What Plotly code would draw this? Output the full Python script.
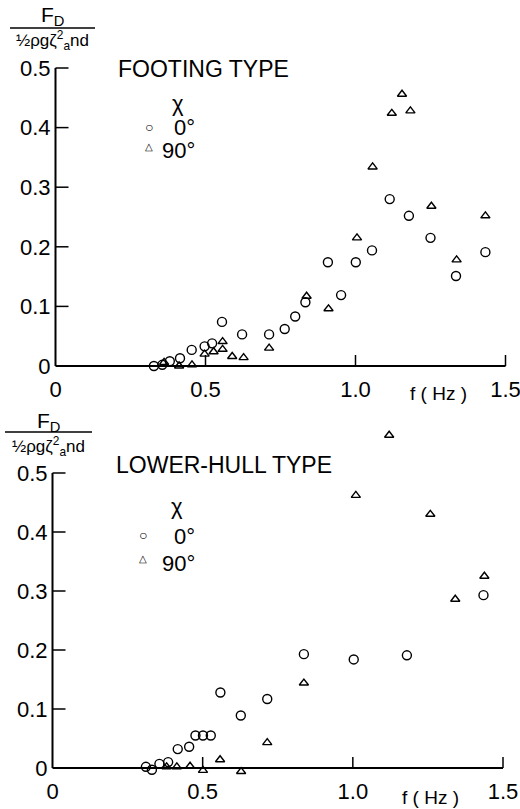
import plotly.graph_objects as go

# Footing type: non-dimensional drift force vs frequency
foot_f_0 = [0.328, 0.356, 0.381, 0.415, 0.454, 0.497, 0.522, 0.555, 0.622, 0.712, 0.764,
            0.799, 0.833, 0.908, 0.952, 1.001, 1.055, 1.114, 1.178, 1.250, 1.335, 1.433]
foot_v_0 = [0.000, 0.002, 0.008, 0.013, 0.027, 0.033, 0.038, 0.074, 0.053, 0.053, 0.062,
            0.083, 0.107, 0.174, 0.119, 0.174, 0.194, 0.280, 0.252, 0.215, 0.151, 0.191]
foot_f_90 = [0.362, 0.412, 0.455, 0.497, 0.527, 0.557, 0.557, 0.589, 0.627, 0.712, 0.837,
             0.910, 1.005, 1.057, 1.121, 1.155, 1.183, 1.253, 1.337, 1.433]
foot_v_90 = [0.006, 0.000, 0.002, 0.020, 0.024, 0.041, 0.028, 0.016, 0.014, 0.030, 0.117,
             0.096, 0.215, 0.334, 0.424, 0.456, 0.428, 0.268, 0.178, 0.252]

# Lower-hull type
hull_f_0 = [0.311, 0.331, 0.356, 0.385, 0.417, 0.455, 0.476, 0.501, 0.527, 0.559, 0.627,
            0.715, 0.837, 1.003, 1.180, 1.435]
hull_v_0 = [0.002, -0.003, 0.007, 0.010, 0.032, 0.036, 0.055, 0.055, 0.055, 0.128, 0.089,
            0.117, 0.193, 0.184, 0.191, 0.293]
hull_f_90 = [0.380, 0.414, 0.458, 0.501, 0.558, 0.628, 0.715, 0.837, 1.010, 1.121, 1.258,
             1.341, 1.438]
hull_v_90 = [0.002, 0.002, 0.003, -0.004, 0.014, -0.006, 0.043, 0.144, 0.462, 0.564, 0.430,
             0.286, 0.325]

x_ticks = [0, 0.5, 1.0, 1.5]
x_labels = ["0", "0.5", "1.0", "1.5"]
y_ticks = [0, 0.1, 0.2, 0.3, 0.4, 0.5]
y_labels = ["0", "0.1", "0.2", "0.3", "0.4", "0.5"]

W, H = 520, 809
FONT = "Liberation Sans, Arial, sans-serif"


def px(x):
    return x / W


def py(y):
    return 1 - y / H


fig = go.Figure()

circle = dict(symbol="circle-open", size=9, color="black", line=dict(width=1.4, color="black"))
tri = dict(symbol="triangle-up-open", size=8, color="black", line=dict(width=1.4, color="black"))

tickfont = dict(family=FONT, size=22, color="black")


def panel(n, f0, v0, f90, v90, x_left, x_right, y_zero, y_half, y_top_val):
    """One panel: axes drawn from y=0 to 0.5 and x=0 to 1.5; the plot area is
    slightly taller so that marks just outside that frame stay visible."""
    xa = "x" if n == 1 else f"x{n}"
    ya = "y" if n == 1 else f"y{n}"
    per_unit = (y_zero - y_half) / 0.5
    y_lo = -0.012
    x_rng = (x_ticks[0], x_ticks[-1])
    y_rng = (y_lo, y_top_val)
    bottom_px = y_zero - y_lo * per_unit
    top_px = y_zero - y_top_val * per_unit
    width_px = x_right - x_left
    height_px = bottom_px - top_px

    for f, v, m in ((f0, v0, circle), (f90, v90, tri)):
        fig.add_trace(go.Scatter(x=f, y=v, mode="markers", marker=m, xaxis=xa, yaxis=ya,
                                 cliponaxis=False, showlegend=False))

    key = "" if n == 1 else str(n)
    fig.update_layout({
        f"xaxis{key}": dict(domain=[px(x_left), px(x_right)], anchor=ya, range=list(x_rng),
                            tickvals=x_ticks, ticktext=x_labels, ticks="", showline=False,
                            showgrid=False, zeroline=False, tickfont=tickfont,
                            ticklabelstandoff=1, ticklabeloverflow="allow", fixedrange=True),
        f"yaxis{key}": dict(domain=[py(bottom_px), py(top_px)], anchor=xa,
                            range=list(y_rng), tickvals=y_ticks, ticktext=y_labels,
                            ticks="", showline=False, showgrid=False, zeroline=False,
                            tickfont=tickfont, ticklabelstandoff=4,
                            ticklabeloverflow="allow", fixedrange=True),
    })

    # axis frame in axis-domain fractions (unclipped), converted from data values
    def fx(v):
        return (v - x_rng[0]) / (x_rng[1] - x_rng[0])

    def fy(v):
        return (v - y_rng[0]) / (y_rng[1] - y_rng[0])

    ref = dict(xref=f"{xa} domain", yref=f"{ya} domain", layer="above")
    axis_line = dict(color="black", width=2)
    tick_line = dict(color="black", width=1.5)
    fig.add_shape(type="line", x0=fx(x_ticks[0]), x1=fx(x_ticks[-1]),
                  y0=fy(y_ticks[0]), y1=fy(y_ticks[0]), line=axis_line, **ref)
    fig.add_shape(type="line", x0=fx(x_ticks[0]), x1=fx(x_ticks[0]),
                  y0=fy(y_ticks[0]), y1=fy(y_ticks[-1]), line=axis_line, **ref)
    # upward x tick marks (11 px) and rightward y tick marks (13 px)
    for t in x_ticks[1:]:
        fig.add_shape(type="line", x0=fx(t), x1=fx(t), y0=fy(y_ticks[0]),
                      y1=fy(y_ticks[0]) + 11 / height_px, line=tick_line, **ref)
    for t in y_ticks[1:]:
        fig.add_shape(type="line", x0=fx(x_ticks[0]), x1=fx(x_ticks[0]) + 13 / width_px,
                      y0=fy(t), y1=fy(t), line=tick_line, **ref)


panel(1, foot_f_0, foot_v_0, foot_f_90, foot_v_90, 55.5, 505.5, 366, 68, 0.5)
panel(2, hull_f_0, hull_v_0, hull_f_90, hull_v_90, 52.5, 503, 768, 473, 0.59)

fig.update_layout(
    width=W, height=H, autosize=False,
    margin=dict(l=0, r=0, t=0, b=0, autoexpand=False),
    paper_bgcolor="white", plot_bgcolor="rgba(0,0,0,0)",
)


def text(x, y, s, size=22, xanchor="center"):
    fig.add_annotation(x=px(x), y=py(y), xref="paper", yref="paper", text=s,
                       showarrow=False, xanchor=xanchor, yanchor="middle",
                       font=dict(family=FONT, size=size, color="black"))


denom = "½ρgζ<sup>2</sup><sub>a</sub>nd"

# Upper panel text
text(52, 16, "F<sub>D</sub>", size=21)
text(52, 41, denom, size=17)
fig.add_shape(type="line", xref="paper", yref="paper", x0=px(10), x1=px(95),
              y0=py(28), y1=py(28), line=dict(color="black", width=1.5))
text(116, 69, "FOOTING TYPE", size=23, xanchor="left")
text(178, 103, "χ", size=22)
text(149, 127, "○", size=14)
text(197, 128, "0°", size=22, xanchor="right")
text(149, 146, "△", size=10)
text(197, 150, "90°", size=22, xanchor="right")
text(408, 393, "f ( Hz )", size=19, xanchor="left")

# Lower panel text
text(48, 422, "F<sub>D</sub>", size=21)
text(48, 446, denom, size=17)
fig.add_shape(type="line", xref="paper", yref="paper", x0=px(5), x1=px(92),
              y0=py(432), y1=py(432), line=dict(color="black", width=1.5))
text(114, 465, "LOWER-HULL TYPE", size=23, xanchor="left")
text(177, 506, "χ", size=22)
text(143, 535, "○", size=14)
text(197, 536, "0°", size=22, xanchor="right")
text(143, 558, "△", size=10)
text(197, 563, "90°", size=22, xanchor="right")
text(400, 797, "f ( Hz )", size=19, xanchor="left")

fig.write_html("out.html")
